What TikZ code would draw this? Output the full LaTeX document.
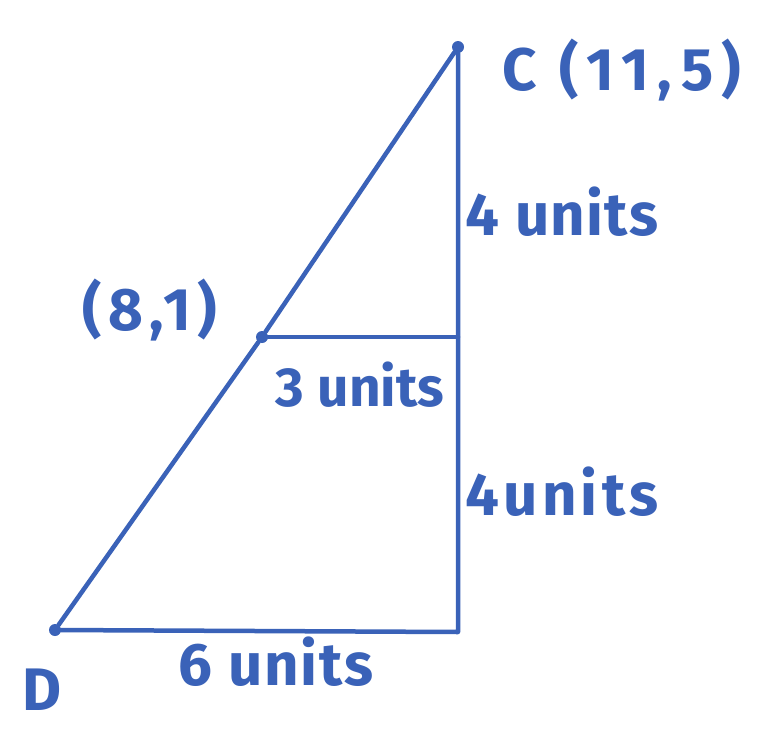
\documentclass[tikz,border=0pt]{standalone}
\usepackage{fontspec}
\setmainfont{Fira Sans}
\definecolor{pen}{HTML}{3A62B8}
\newcommand{\ls}[1]{\addfontfeature{LetterSpace=#1}}
\begin{document}
\begin{tikzpicture}[x=1pt,y=-1pt,
  seg/.style={draw=pen,line width=4.5pt,line cap=round,line join=round},
  lbl/.style={text=pen,font=\fontsize{60}{64}\selectfont\bfseries,inner sep=0pt},
  dot/.style={circle,fill=pen,minimum size=12pt,inner sep=0pt}]
\useasboundingbox (0,0) rectangle (758,737);
\fill[white] (0,0) rectangle (758,737);
\node[dot] (C) at (458,47) {};
\node[dot] (D) at (55,630) {};
\node[dot] (M) at (262,337) {};
\coordinate (E) at (458,632);
\coordinate (N) at (458,337);
\draw[seg] (D) -- (M) -- (C) -- (N) -- (E) -- (D);
\draw[seg] (M) -- (N);
\node[lbl] (lc) at (622,70) {\ls{14}C (11,5)};
\node[lbl] (l4a) at (562,212) {\ls{2}4 units};
\node[lbl] (l81) at (150,310) {\ls{10}(8,1)};
\node[lbl,font=\fontsize{55}{60}\selectfont\bfseries] (l3) at (360,385) {3 units};
\node[lbl] (l4b) at (562,492) {\ls{7}4units};
\node[lbl] (l6) at (276,662) {\ls{3}6 units};
\node[lbl] (lD) at (42,690) {D};
\end{tikzpicture}
\end{document}
